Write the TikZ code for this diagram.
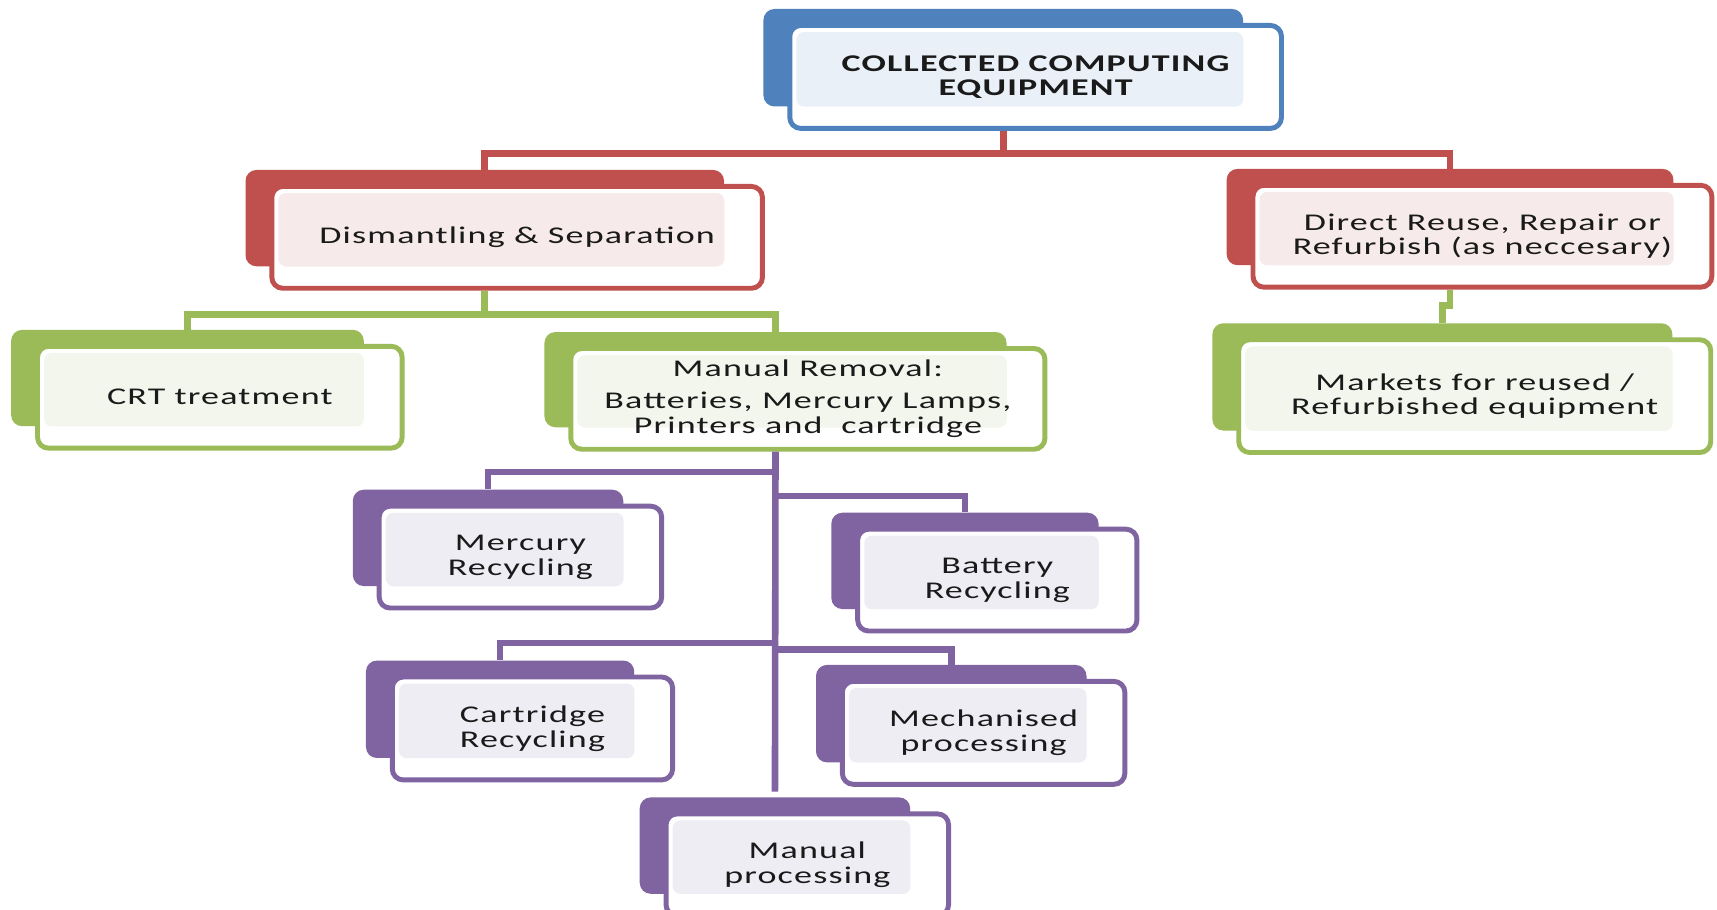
\documentclass[tikz,border=0pt]{standalone}
\usepackage{fontspec}
\setmainfont{Carlito}[FakeStretch=1.5, LetterSpace=5]
\definecolor{cblue}{HTML}{4F81BD}
\definecolor{cred}{HTML}{C0504D}
\definecolor{cgreen}{HTML}{9BBB59}
\definecolor{cpurple}{HTML}{8064A2}
\definecolor{tblue}{HTML}{EAF0F8}
\definecolor{tred}{HTML}{F6EAEA}
\definecolor{tgreen}{HTML}{F2F6EC}
\definecolor{tpurple}{HTML}{EFEDF4}
\definecolor{txt}{HTML}{1A1A1A}
\tikzset{
  backbox/.style={anchor=north west, rounded corners=10bp, inner sep=0pt, draw=none},
  frontbox/.style={anchor=north west, fill=white, line width=4.5bp, rounded corners=10bp,
    align=center, inner sep=0pt, text=txt, font=\fontsize{22}{22.5}\selectfont},
  conn/.style={line width=6bp}
}
\newcommand\mybox[8]{%
  \node[backbox, fill=#6, minimum width=#4bp, minimum height=#5bp] (#1B) at (#2,#3) {};
  \node[frontbox, draw=#6, minimum width=#4bp+11bp, minimum height=#5bp+5bp,
    path picture={\fill[#7, rounded corners=7bp] ([xshift=6bp,yshift=-6bp]path picture bounding box.north west) rectangle (#1B.south east);}]
    (#1) at (#2+22,#3+13) {#8};
}
\begin{document}
\begin{tikzpicture}[x=1bp, y=-1bp]
\useasboundingbox (0,0) rectangle (1568,831);
\clip (0,0) rectangle (1568,831);
\fill[white] (0,0) rectangle (1568,831);

\mybox{top}{697}{8}{438}{89}{cblue}{tblue}{\bfseries COLLECTED COMPUTING\\\bfseries EQUIPMENT}
\mybox{dis}{224}{155}{437}{88}{cred}{tred}{Dismantling \& Separation}
\mybox{dr}{1120}{154}{408}{88}{cred}{tred}{Direct Reuse, Repair or\\Refurbish (as neccesary)}
\mybox{crt}{10}{301}{322}{88}{cgreen}{tgreen}{CRT treatment}
\mybox{mr}{497}{303}{422}{87}{cgreen}{tgreen}{Manual Removal:\\[7bp]Batteries, Mercury Lamps,\\Printers and~ cartridge}
\mybox{mk}{1107}{295}{420}{98}{cgreen}{tgreen}{Markets for reused /\\Refurbished equipment}
\mybox{merc}{322}{447}{247}{88}{cpurple}{tpurple}{Mercury\\Recycling}
\mybox{bat}{759}{468}{244}{88}{cpurple}{tpurple}{Battery\\Recycling}
\mybox{cart}{334}{603}{245}{89}{cpurple}{tpurple}{Cartridge\\Recycling}
\mybox{mech}{745}{607}{247}{89}{cpurple}{tpurple}{Mechanised\\processing}
\mybox{mp}{584}{728}{247}{88}{cpurple}{tpurple}{Manual\\processing}

\coordinate (bus1) at (0,140);
\coordinate (bus2) at (0,287);
\coordinate (jog) at (0,279);
\coordinate (b1) at (0,431);
\coordinate (b2) at (0,453);
\coordinate (b3) at (0,587);
\coordinate (b4) at (0,593);

\draw[conn, cred] (topB.center |- top.south) -- (topB.center |- bus1) -| (disB.north);
\draw[conn, cred] (topB.center |- bus1) -| (drB.north);
\draw[conn, cgreen] (disB.center |- dis.south) -- (disB.center |- bus2) -| (crtB.north);
\draw[conn, cgreen] (disB.center |- bus2) -| (mrB.north);
\draw[conn, cgreen] (drB.center |- dr.south) -- (drB.center |- jog) -| (mkB.north);
\draw[conn, cpurple] (mrB.center |- mr.south) -- ([yshift=5bp]mpB.north);
\draw[conn, cpurple] (mrB.center |- b1) -| (mercB.north);
\draw[conn, cpurple] (mrB.center |- b2) -| (batB.north);
\draw[conn, cpurple] (mrB.center |- b3) -| (cartB.north);
\draw[conn, cpurple] (mrB.center |- b4) -| (mechB.north);
\end{tikzpicture}
\end{document}
